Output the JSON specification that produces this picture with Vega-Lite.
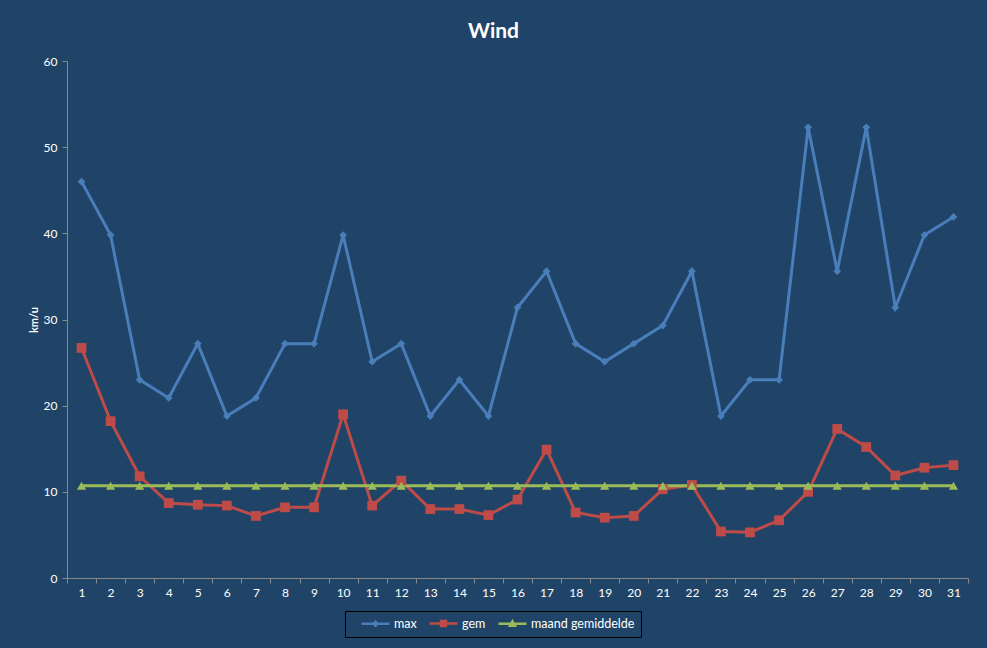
{
  "$schema": "https://vega.github.io/schema/vega-lite/v6.json",
  "width": 901,
  "height": 517,
  "autosize": {"type": "none"},
  "padding": {"left": 67, "top": 61, "right": 19, "bottom": 70},
  "background": "#1F4467",
  "config": {"view": {"stroke": null}},
  "title": {"text": "Wind", "color": "white", "fontSize": 21, "font": "Lato", "fontWeight": "bold", "anchor": "middle", "frame": "group", "dx": -24, "offset": 13},
  "data": {"values": [
    {"day": 1, "max": 46.0, "gem": 26.7, "maand gemiddelde": 10.7},
    {"day": 2, "max": 39.8, "gem": 18.2, "maand gemiddelde": 10.7},
    {"day": 3, "max": 23.0, "gem": 11.8, "maand gemiddelde": 10.7},
    {"day": 4, "max": 20.9, "gem": 8.7, "maand gemiddelde": 10.7},
    {"day": 5, "max": 27.2, "gem": 8.5, "maand gemiddelde": 10.7},
    {"day": 6, "max": 18.8, "gem": 8.4, "maand gemiddelde": 10.7},
    {"day": 7, "max": 20.9, "gem": 7.2, "maand gemiddelde": 10.7},
    {"day": 8, "max": 27.2, "gem": 8.2, "maand gemiddelde": 10.7},
    {"day": 9, "max": 27.2, "gem": 8.2, "maand gemiddelde": 10.7},
    {"day": 10, "max": 39.8, "gem": 19.0, "maand gemiddelde": 10.7},
    {"day": 11, "max": 25.1, "gem": 8.4, "maand gemiddelde": 10.7},
    {"day": 12, "max": 27.2, "gem": 11.3, "maand gemiddelde": 10.7},
    {"day": 13, "max": 18.8, "gem": 8.0, "maand gemiddelde": 10.7},
    {"day": 14, "max": 23.0, "gem": 8.0, "maand gemiddelde": 10.7},
    {"day": 15, "max": 18.8, "gem": 7.3, "maand gemiddelde": 10.7},
    {"day": 16, "max": 31.4, "gem": 9.1, "maand gemiddelde": 10.7},
    {"day": 17, "max": 35.6, "gem": 14.9, "maand gemiddelde": 10.7},
    {"day": 18, "max": 27.2, "gem": 7.6, "maand gemiddelde": 10.7},
    {"day": 19, "max": 25.1, "gem": 7.0, "maand gemiddelde": 10.7},
    {"day": 20, "max": 27.2, "gem": 7.2, "maand gemiddelde": 10.7},
    {"day": 21, "max": 29.3, "gem": 10.3, "maand gemiddelde": 10.7},
    {"day": 22, "max": 35.6, "gem": 10.8, "maand gemiddelde": 10.7},
    {"day": 23, "max": 18.8, "gem": 5.4, "maand gemiddelde": 10.7},
    {"day": 24, "max": 23.0, "gem": 5.3, "maand gemiddelde": 10.7},
    {"day": 25, "max": 23.0, "gem": 6.7, "maand gemiddelde": 10.7},
    {"day": 26, "max": 52.3, "gem": 10.0, "maand gemiddelde": 10.7},
    {"day": 27, "max": 35.6, "gem": 17.3, "maand gemiddelde": 10.7},
    {"day": 28, "max": 52.3, "gem": 15.2, "maand gemiddelde": 10.7},
    {"day": 29, "max": 31.4, "gem": 11.9, "maand gemiddelde": 10.7},
    {"day": 30, "max": 39.8, "gem": 12.8, "maand gemiddelde": 10.7},
    {"day": 31, "max": 41.9, "gem": 13.1, "maand gemiddelde": 10.7}
  ]},
  "transform": [{"fold": ["max", "gem", "maand gemiddelde"], "as": ["series", "value"]}],
  "encoding": {
    "x": {
      "field": "day", "type": "ordinal",
      "scale": {"type": "band", "paddingInner": 0, "paddingOuter": 0},
      "axis": {"title": null, "labelAngle": 0, "tickBand": "extent", "grid": false,
               "domainColor": "#888888", "tickColor": "#888888", "tickSize": 5,
               "labelColor": "white", "labelFont": "Lato", "labelFontSize": 12, "labelPadding": 4}
    },
    "y": {
      "field": "value", "type": "quantitative",
      "scale": {"domain": [0, 60], "nice": false},
      "axis": {"title": "km/u", "values": [0, 10, 20, 30, 40, 50, 60], "grid": false,
               "domainColor": "#888888", "tickColor": "#888888", "tickSize": 5,
               "labelColor": "white", "labelFont": "Lato", "labelFontSize": 12, "labelPadding": 5,
               "titleColor": "white", "titleFont": "Lato", "titleFontSize": 11, "titleFontWeight": "bold", "titlePadding": 4}
    }
  },
  "layer": [
    {"mark": {"type": "line", "strokeWidth": 3},
     "encoding": {
       "color": {
         "field": "series", "type": "nominal",
         "scale": {"domain": ["max", "gem", "maand gemiddelde"], "range": ["#4A7EBB", "#BE4B48", "#9BBB59"]},
         "legend": {
           "title": null, "orient": "none", "legendX": 278, "legendY": 550, "direction": "horizontal",
           "strokeColor": "black", "padding": 6, "columnPadding": 2,
           "labelColor": "white", "labelFont": "Lato", "labelFontSize": 12.5, "labelOffset": 30,
           "symbolSize": 100, "symbolStrokeWidth": 2.5, "symbolOpacity": 1
         }
       }
     }},
    {"mark": {"type": "point", "filled": false, "opacity": 0},
     "encoding": {
       "color": {"field": "series", "type": "nominal"},
       "shape": {
         "field": "series", "type": "nominal",
         "scale": {"domain": ["max", "gem", "maand gemiddelde"],
                   "range": ["M0.8,0H6.4M3.6,-0.4L4,0L3.6,0.4L3.2,0Z", "M0.8,0H6.4M3.1,-0.5H4.1V0.5H3.1Z", "M0.8,0H6.4M3.6,-0.5L4.1,0.4L3.1,0.4Z"]},
         "legend": {
           "title": null, "orient": "none", "legendX": 278, "legendY": 550, "direction": "horizontal",
           "strokeColor": "black", "padding": 6, "columnPadding": 2,
           "labelColor": "white", "labelFont": "Lato", "labelFontSize": 12.5, "labelOffset": 30,
           "symbolSize": 100, "symbolStrokeWidth": 2.5, "symbolOpacity": 1
         }
       }
     }},
    {"transform": [{"filter": "datum.series === 'max'"}],
     "mark": {"type": "point", "filled": true, "opacity": 1, "shape": "diamond", "size": 60, "color": "#4A7EBB"}},
    {"transform": [{"filter": "datum.series === 'gem'"}],
     "mark": {"type": "point", "filled": true, "opacity": 1, "shape": "square", "size": 95, "color": "#BE4B48"}},
    {"transform": [{"filter": "datum.series === 'maand gemiddelde'"}],
     "mark": {"type": "point", "filled": true, "opacity": 1, "shape": "triangle-up", "size": 85, "color": "#9BBB59"}}
  ]
}
